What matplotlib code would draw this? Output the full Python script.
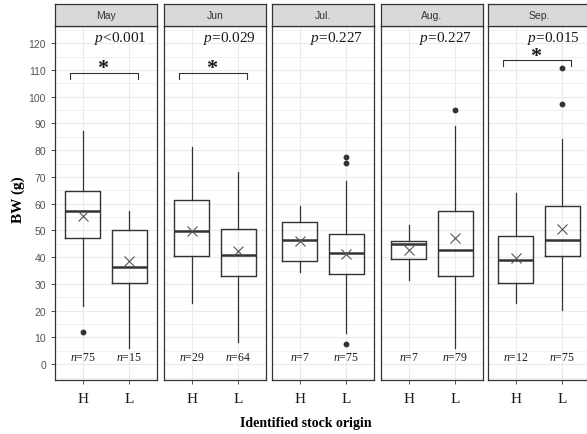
import numpy as np
import matplotlib
matplotlib.use("Agg")
from matplotlib import pyplot as plt

##### data
months = ["May", "Jun", "Jul.", "Aug.", "Sep."]
groups = ["H", "L"]
p_labels = [r"$p$<0.001", r"$p$=0.029", r"$p$=0.227", r"$p$=0.227", r"$p$=0.015"]
n_labels = [[75, 15], [29, 64], [7, 75], [7, 79], [12, 75]]
bracket_y = [109.0, 109.0, None, None, 113.8]  # None = no significance mark

# per month: [H, L] -> (whislo, q1, med, q3, whishi, mean)
whislo = [[21.9, 6.1], [22.9, 8.2], [34.4, 11.6], [31.5, 6.1], [22.8, 20.4]]
q1 = [[47.3, 30.3], [40.3, 32.9], [38.6, 33.6], [39.2, 33.0], [30.3, 40.5]]
med = [[57.4, 36.2], [49.9, 41.0], [46.4, 41.7], [44.8, 42.6], [38.8, 46.5]]
q3 = [[64.9, 50.2], [61.4, 50.4], [53.3, 48.8], [45.9, 57.3], [48.0, 59.2]]
whishi = [[87.3, 57.4], [81.3, 71.7], [59.2, 68.5], [52.0, 89.1], [63.9, 84.2]]
means = [[55.5, 38.6], [49.9, 42.3], [46.0, 41.2], [42.7, 47.1], [39.8, 50.4]]
fliers = [[[12.0], []], [[], []], [[], [77.5, 75.2, 7.5]], [[], [95.0]], [[], [110.8, 97.1]]]

yticks = list(range(0, 121, 10))

plt.rcParams['mathtext.fontset'] = 'custom'
plt.rcParams['mathtext.rm'] = 'Liberation Serif'
plt.rcParams['mathtext.it'] = 'Liberation Serif:italic'

W, H = 587, 435
fig = plt.figure(figsize=(W / 100, H / 100), dpi=100)

panel_left = [55, 164, 272, 381, 488]
panel_w = 102
top, bottom = 27, 381
strip_top = 5
edge = '#333333'

for i, m in enumerate(months):
    x0 = panel_left[i]
    ax = fig.add_axes([x0 / W, 1 - bottom / H, panel_w / W, (bottom - top) / H])
    sax = fig.add_axes([x0 / W, 1 - top / H, panel_w / W, (top - strip_top) / H])

    stats = []
    for j in range(2):
        stats.append(dict(whislo=whislo[i][j], q1=q1[i][j], med=med[i][j], q3=q3[i][j],
                          whishi=whishi[i][j], mean=means[i][j], fliers=fliers[i][j]))
    ax.bxp(stats, positions=[1, 2], widths=0.75, showmeans=True, showcaps=False,
           boxprops=dict(color=edge, lw=1.0),
           medianprops=dict(color=edge, lw=1.8),
           whiskerprops=dict(color=edge, lw=0.9),
           flierprops=dict(marker='o', markerfacecolor='#333333', markeredgecolor='#333333',
                           markersize=3.2),
           meanprops=dict(marker='x', markeredgecolor='#555555', markersize=6.5, markeredgewidth=0.8))

    ax.set_xlim(0.4, 2.6)
    ax.set_ylim(-5.9, 126.4)
    ax.set_yticks(yticks)
    ax.set_yticks(np.arange(-5, 126, 10), minor=True)
    ax.set_xticks([1, 2])
    ax.set_xticklabels(groups, family='Liberation Serif', fontsize=11, color='#1a1a1a')
    ax.grid(True, which='major', color='#EBEBEB', lw=0.8)
    ax.grid(True, which='minor', axis='y', color='#EBEBEB', lw=0.5)
    ax.set_axisbelow(True)
    ax.tick_params(axis='both', which='major', length=3, color='#333333', width=0.6)
    ax.tick_params(axis='y', which='minor', length=0)
    ax.tick_params(axis='x', pad=6)
    if i == 0:
        ax.set_yticklabels([str(t) for t in yticks], family='Liberation Sans', fontsize=7.5,
                           color='#555555')
    else:
        ax.tick_params(axis='y', which='major', left=False, labelleft=False)
    for s in ax.spines.values():
        s.set_color(edge)
        s.set_linewidth(0.9)

    ax.text(1.8, 122, p_labels[i], ha='center', va='center', family='Liberation Serif',
            fontsize=11, color='#1a1a1a')
    for j in range(2):
        ax.text(j + 1, 2.6, r"$n$=%d" % n_labels[i][j], ha='center', va='center',
                family='Liberation Serif', fontsize=8.5, color='#1a1a1a')

    by = bracket_y[i]
    if by is not None:
        ax.plot([0.73, 0.73, 2.2, 2.2], [by - 2.5, by, by, by - 2.5], color=edge, lw=0.8)
        ax.text(1.43, by - 0.3, "*", ha='center', va='baseline', family='Liberation Serif',
                fontsize=16, fontweight='bold', color='#1a1a1a')

    sax.set_xticks([])
    sax.set_yticks([])
    sax.set_facecolor('#D9D9D9')
    for s in sax.spines.values():
        s.set_color(edge)
        s.set_linewidth(0.9)
    sax.text(0.5, 0.5, m, ha='center', va='center', transform=sax.transAxes,
             family='Liberation Sans', fontsize=7.5, color='#333333')

fig.text(18 / W, 1 - 200 / H, "BW (g)", rotation=90, ha='center', va='center',
         family='Liberation Serif', fontweight='bold', fontsize=11)
fig.text(306 / W, 1 - 424 / H, "Identified stock origin", ha='center', va='center',
         family='Liberation Serif', fontweight='bold', fontsize=10)

fig.savefig("out.png", dpi=100)
